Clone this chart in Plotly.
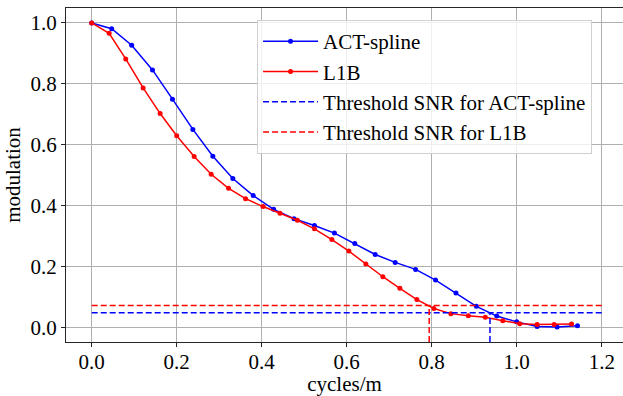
import plotly.graph_objects as go

# ---- data ----
act_x = [0.0, 0.047, 0.094, 0.143, 0.19, 0.238, 0.285, 0.332, 0.38, 0.428, 0.476, 0.524,
         0.571, 0.619, 0.667, 0.714, 0.762, 0.809, 0.857, 0.905, 0.953, 1.0, 1.048, 1.095, 1.143]
act_y = [1.0, 0.981, 0.927, 0.846, 0.75, 0.651, 0.563, 0.49, 0.434, 0.389, 0.358, 0.336,
         0.311, 0.277, 0.241, 0.215, 0.192, 0.157, 0.115, 0.071, 0.039, 0.02, 0.005, 0.003, 0.0075]

l1b_x = [0.0, 0.041, 0.08, 0.121, 0.161, 0.2, 0.241, 0.281, 0.322, 0.362, 0.403, 0.443,
         0.484, 0.524, 0.565, 0.605, 0.645, 0.685, 0.725, 0.765, 0.805, 0.845, 0.886, 0.926,
         0.967, 1.007, 1.048, 1.088, 1.129]
l1b_y = [1.0, 0.966, 0.882, 0.787, 0.703, 0.63, 0.562, 0.504, 0.458, 0.424, 0.398, 0.376,
         0.353, 0.325, 0.29, 0.252, 0.21, 0.168, 0.13, 0.093, 0.064, 0.047, 0.04, 0.035,
         0.024, 0.014, 0.011, 0.011, 0.013]

threshold_names = ["Threshold SNR for ACT-spline", "Threshold SNR for L1B"]
threshold_values = [0.05, 0.074]
threshold_crossing = [0.937, 0.794]
threshold_span = [0.0, 1.2]
series_colors = ["#0000ff", "#ff0000"]

x_range = [-0.0605, 1.250]
y_range = [-0.046, 1.049]

FONT = "Liberation Serif"

fig = go.Figure()
fig.add_trace(go.Scatter(x=act_x, y=act_y, mode="lines+markers", name="ACT-spline",
                         line=dict(color=series_colors[0], width=1.5),
                         marker=dict(size=5, color=series_colors[0])))
fig.add_trace(go.Scatter(x=l1b_x, y=l1b_y, mode="lines+markers", name="L1B",
                         line=dict(color=series_colors[1], width=1.5),
                         marker=dict(size=5, color=series_colors[1])))
for name, val, col in zip(threshold_names, threshold_values, series_colors):
    fig.add_trace(go.Scatter(x=threshold_span, y=[val, val], mode="lines", name=name,
                             line=dict(color=col, width=1.5, dash="6px,3px")))
for val, xc, col in zip(threshold_values, threshold_crossing, series_colors):
    fig.add_trace(go.Scatter(x=[xc, xc], y=[y_range[0], val], mode="lines", showlegend=False,
                             line=dict(color=col, width=1.5, dash="6px,3px")))

axis_common = dict(showgrid=True, gridcolor="#b0b0b0", gridwidth=1, zeroline=False,
                   showline=True, linecolor="#262626", linewidth=1.2,
                   ticks="outside", ticklen=4, tickwidth=1.2, tickcolor="#262626",
                   tickformat=".1f", tick0=0, dtick=0.2,
                   tickfont=dict(family=FONT, size=21, color="black"))

fig.update_layout(
    width=623, height=396,
    margin=dict(l=66, r=0, t=8, b=54),
    plot_bgcolor="white", paper_bgcolor="white",
    font=dict(family=FONT, size=21),
    showlegend=True,
    legend=dict(x=0.343, y=0.964, xanchor="left", yanchor="top",
                bgcolor="rgba(255,255,255,0.8)", bordercolor="#d0d0d0", borderwidth=1,
                font=dict(family=FONT, size=21, color="black"),
                itemwidth=55, tracegroupgap=0),
    xaxis=dict(range=x_range,
               title=dict(text="cycles/m", font=dict(family=FONT, size=21, color="black"),
                          standoff=2),
               ticklabelstandoff=-3,
               mirror=True, **axis_common),
    yaxis=dict(range=y_range,
               title=dict(text="modulation", font=dict(family=FONT, size=21, color="black"),
                          standoff=4),
               **axis_common),
)

fig.write_html("out.html")
